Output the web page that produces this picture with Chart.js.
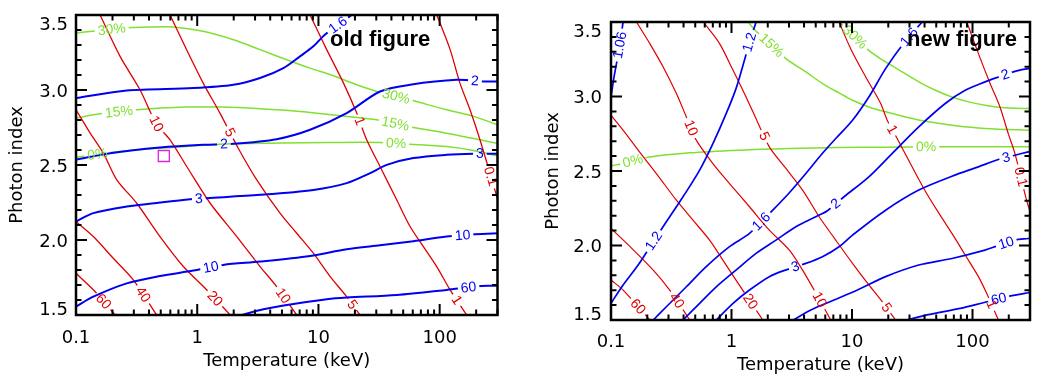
<!DOCTYPE html>
<html>
<head>
<meta charset="utf-8">
<script src="https://cdn.jsdelivr.net/npm/chart.js@4.4.1/dist/chart.umd.min.js"></script>
<style>
  body { margin: 0; background: #fff; }
  #wrap { position: relative; width: 1047px; height: 382px; }
  .panel { position: absolute; top: 0; height: 382px; }
</style>
</head>
<body>
<div id="wrap">
  <div class="panel" style="left:0;width:523px"><canvas id="oldChart"></canvas></div>
  <div class="panel" style="left:523px;width:524px"><canvas id="newChart"></canvas></div>
</div>
<script>
// axis ticks
const tempTicks = [0.1, 1, 10, 100];
const tempTickLabels = ['0.1', '1', '10', '100'];
const indexTicks = [1.5, 2.0, 2.5, 3.0, 3.5];
const indexTickLabels = ['1.5', '2.0', '2.5', '3.0', '3.5'];

// contours: [label, [[T, index], ...], [[T, index] of each label]]
const oldRed = [
  ['60', [[0.1,1.778],[0.141,1.663],[0.21,1.5],[0.231,1.462]], [[0.168,1.589]]],
  ['40', [[0.1,2.123],[0.139,2.023],[0.203,1.878],[0.297,1.734],[0.463,1.5],[0.493,1.467]], [[0.337,1.622]]],
  ['20', [[0.092,2.91],[0.1,2.868],[0.131,2.712],[0.168,2.579],[0.217,2.401],[0.317,2.245],[0.493,2.023],[0.769,1.823],[1.20,1.667],[1.87,1.5],[2.05,1.456]], [[1.36,1.600]]],
  ['10', [[0.148,3.547],[0.158,3.5],[0.231,3.224],[0.337,3.002],[0.46,2.775],[0.597,2.668],[0.819,2.490],[1.28,2.245],[2.12,2.023],[3.30,1.823],[4.52,1.689],[6.62,1.5],[7.05,1.467]], [[0.46,2.775],[4.98,1.622]]],
  ['5', [[0.56,3.547],[0.597,3.5],[0.769,3.313],[1.12,3.046],[1.54,2.846],[2.18,2.612],[3.10,2.401],[4.82,2.179],[6.62,2.045],[9.08,1.912],[12.5,1.756],[17.1,1.622],[22.0,1.5],[23.8,1.462]], [[1.81,2.712],[18.8,1.567]]],
  ['1', [[8.0,3.547],[8.53,3.5],[11.7,3.269],[16.1,3.046],[20.7,2.846],[25.0,2.668],[32.2,2.490],[44.2,2.268],[57.0,2.090],[73.4,1.956],[94.6,1.823],[122,1.667],[167,1.5],[178,1.467]], [[21.4,2.790],[143,1.607]]],
  ['0.1', [[88.8,3.547],[94.6,3.5],[122,3.269],[147,3.046],[178,2.868],[215,2.668],[296,2.290],[315,2.212]], [[260,2.423]]]
];
const oldBlue = [
  ['1.6', [[0.1,2.946],[0.262,2.997],[0.929,3.013],[1.99,3.035],[3.30,3.080],[5.14,3.146],[7.05,3.224],[9.08,3.291],[11.3,3.369],[18.8,3.5],[22.0,3.54]], [[14.2,3.442]]],
  ['2', [[0.1,2.535],[0.191,2.579],[0.493,2.617],[1.12,2.635],[1.99,2.641],[4.52,2.672],[8.53,2.735],[17.1,2.846],[32.2,2.990],[57.0,3.035],[138,3.068],[237,3.057],[320,3.057]], [[1.66,2.650],[196,3.073]]],
  ['3', [[0.1,2.123],[0.139,2.179],[0.262,2.223],[0.493,2.250],[0.872,2.272],[1.20,2.279],[3.30,2.301],[9.08,2.334],[17.1,2.379],[26.7,2.446],[36.6,2.501],[60.7,2.546],[114,2.568],[190,2.575],[320,2.575]], [[1.03,2.285],[215,2.579]]],
  ['10', [[0.1,1.556],[0.139,1.622],[0.262,1.711],[0.493,1.760],[0.929,1.796],[1.64,1.834],[3.30,1.856],[8.53,1.894],[17.1,1.938],[32.2,1.965],[60.7,1.992],[114,2.023],[196,2.038],[320,2.045]], [[1.29,1.829],[154,2.045]]],
  ['60', [[1.87,1.478],[2.33,1.5],[3.51,1.538],[6.21,1.573],[11.7,1.605],[17.1,1.616],[44.2,1.633],[114,1.667],[222,1.694],[320,1.694]], [[173,1.689]]]
];
const oldGreen = [
  ['30%', [[0.1,3.380],[0.27,3.415],[0.408,3.42],[0.635,3.42],[1.12,3.391],[1.99,3.335],[3.30,3.269],[5.47,3.202],[8.53,3.146],[13.3,3.095],[20.7,3.035],[30.3,2.990],[58.8,2.931],[114,2.868],[190,2.824],[320,2.76]], [[0.197,3.405],[43.7,2.957]]],
  ['15%', [[0.1,2.813],[0.158,2.841],[0.317,2.868],[0.819,2.886],[1.54,2.886],[3.30,2.875],[7.05,2.857],[17.1,2.824],[30.3,2.801],[60.7,2.750],[114,2.712],[215,2.668],[320,2.64]], [[0.226,2.855],[43.4,2.784]]],
  ['0%', [[0.1,2.552],[0.191,2.583],[0.408,2.608],[0.819,2.623],[1.54,2.639],[4.82,2.646],[12.5,2.650],[32.2,2.650],[57.0,2.639],[114,2.623],[190,2.597],[320,2.555]], [[0.15,2.575],[43.7,2.650]]]
];
const oldBestFit = [[0.53, 2.56]];

const newRed = [
  ['60', [[0.1,1.768],[0.126,1.701],[0.21,1.5],[0.231,1.455]], [[0.17,1.594]]],
  ['40', [[0.1,2.115],[0.144,1.992],[0.224,1.835],[0.307,1.701],[0.45,1.5],[0.48,1.455]], [[0.342,1.623]]],
  ['20', [[0.092,2.908],[0.1,2.874],[0.126,2.774],[0.168,2.640],[0.238,2.483],[0.349,2.304],[0.479,2.170],[0.658,2.036],[0.848,1.902],[1.09,1.768],[1.82,1.5],[2.0,1.455]], [[1.39,1.616]]],
  ['10', [[0.153,3.545],[0.163,3.5],[0.21,3.355],[0.271,3.198],[0.349,3.020],[0.422,2.863],[0.51,2.707],[0.701,2.550],[0.963,2.416],[1.41,2.260],[2.06,2.103],[3.02,1.969],[3.89,1.835],[4.85,1.701],[5.69,1.601],[6.66,1.5],[7.10,1.455]], [[0.45,2.785],[5.01,1.623]]],
  ['5', [[0.554,3.545],[0.587,3.5],[0.796,3.355],[1.03,3.176],[1.32,2.997],[1.62,2.841],[2.06,2.662],[2.83,2.517],[3.89,2.372],[5.34,2.193],[7.33,2.036],[10.1,1.880],[13.8,1.735],[17.8,1.623],[23.0,1.5],[25.3,1.455]], [[1.78,2.725],[19.0,1.578]]],
  ['1', [[7.42,3.545],[7.81,3.5],[9.75,3.321],[13.0,3.131],[17.3,2.953],[19.6,2.841],[23.7,2.718],[30.5,2.550],[39.4,2.383],[50.7,2.237],[67.5,2.081],[87.0,1.936],[112,1.791],[131,1.679],[164,1.5],[175,1.455]], [[21.5,2.778],[145,1.607]]],
  ['0.1', [[85.9,3.545],[89.8,3.5],[112,3.288],[140,3.087],[169,2.930],[198,2.751],[225,2.617],[281,2.304],[309,2.193]], [[251,2.461]]]
];
const newBlue = [
  ['1.06', [[0.097,2.930],[0.1,2.997],[0.106,3.131],[0.113,3.254],[0.119,3.355],[0.126,3.5],[0.130,3.556]], [[0.119,3.344]]],
  ['1.2', [[0.092,1.567],[0.1,1.612],[0.126,1.735],[0.168,1.869],[0.224,2.025],[0.288,2.159],[0.396,2.327],[0.544,2.506],[0.701,2.684],[0.903,2.885],[1.09,3.053],[1.28,3.243],[1.41,3.366],[1.60,3.5],[1.65,3.545]], [[0.224,2.032],[1.39,3.366]]],
  ['1.6', [[0.197,1.455],[0.224,1.5],[0.288,1.589],[0.422,1.723],[0.617,1.858],[0.963,1.992],[1.41,2.081],[2.20,2.237],[3.02,2.354],[4.14,2.483],[5.51,2.606],[7.33,2.718],[10.1,2.841],[13.8,2.997],[19.0,3.187],[26.1,3.344],[38.1,3.5],[41.9,3.545]], [[1.78,2.159],[28.7,3.411]]],
  ['2', [[0.349,1.455],[0.396,1.5],[0.544,1.612],[0.747,1.723],[1.09,1.835],[1.60,1.947],[2.34,2.036],[3.42,2.126],[5.01,2.193],[6.25,2.233],[8.59,2.327],[13.8,2.461],[21.5,2.617],[35.8,2.796],[59.4,2.953],[87.0,3.042],[127,3.098],[159,3.127],[225,3.169],[290,3.187],[319,3.192]], [[7.42,2.275],[186,3.154]]],
  ['3', [[0.658,1.455],[0.747,1.5],[1.03,1.612],[1.41,1.701],[2.06,1.791],[2.92,1.840],[4.14,1.880],[5.69,1.925],[7.81,1.992],[10.1,2.070],[19.0,2.237],[35.8,2.372],[67.5,2.465],[112,2.528],[164,2.577],[225,2.606],[290,2.628],[319,2.635]], [[3.38,1.862],[189,2.599]]],
  ['10', [[2.66,1.455],[3.21,1.496],[4.55,1.567],[7.10,1.634],[11.1,1.701],[19.0,1.791],[35.8,1.869],[67.5,1.913],[127,1.969],[159,1.996],[225,2.036],[290,2.047],[319,2.052]], [[189,2.025]]],
  ['60', [[19.0,1.466],[28.7,1.5],[41.9,1.534],[79.1,1.578],[123,1.616],[218,1.665],[290,1.683],[319,1.688]], [[164,1.650]]]
];
const newGreen = [
  ['30%', [[6.88,3.545],[7.81,3.5],[13.8,3.310],[19.0,3.232],[26.1,3.165],[35.8,3.098],[49.2,3.042],[67.5,2.997],[92.7,2.964],[127,2.941],[175,2.926],[290,2.919],[319,2.919]], [[10.6,3.399]]],
  ['15%', [[1.24,3.551],[1.55,3.449],[2.83,3.254],[4.14,3.165],[5.69,3.087],[7.81,3.024],[10.1,2.975],[13.8,2.930],[19.0,2.897],[27.8,2.863],[43.3,2.830],[67.5,2.807],[127,2.785],[290,2.774],[319,2.774]], [[2.15,3.344]]],
  ['0%', [[0.1,2.535],[0.126,2.550],[0.197,2.591],[0.45,2.622],[1.16,2.640],[3.02,2.651],[7.81,2.658],[19.0,2.660],[55.8,2.662],[319,2.662]], [[0.151,2.573],[41.2,2.662]]]
];

const RED = '#e00000';
const BLUE = '#0000f0';
const GREEN = '#80e030';
const MAGENTA = '#dd22dd';
const FONT = 'DejaVu Sans';
const LABEL_FONT = '14px "Liberation Sans"';

// contour labels: cut a gap in the line and write the value along it
const contourLabels = {
  id: 'contourLabels',
  beforeDatasetsDraw(chart) {
    const sx = chart.scales.x, sy = chart.scales.y;
    const ctx = chart.ctx;
    ctx.save();
    ctx.font = LABEL_FONT;
    chart.$marks = chart.data.datasets.map(ds => {
      if (!ds.marks) return [];
      const pts = ds.data.map(p => [sx.getPixelForValue(p.x), sy.getPixelForValue(p.y)]);
      return ds.marks.map(([t, g]) => {
        const px = sx.getPixelForValue(t), py = sy.getPixelForValue(g);
        let best = null;
        for (let i = 0; i < pts.length - 1; i++) {
          const [x0, y0] = pts[i], [x1, y1] = pts[i + 1];
          const dx = x1 - x0, dy = y1 - y0;
          const len2 = dx * dx + dy * dy;
          let u = len2 ? ((px - x0) * dx + (py - y0) * dy) / len2 : 0;
          u = Math.max(0, Math.min(1, u));
          const qx = x0 + u * dx, qy = y0 + u * dy;
          const d = (qx - px) ** 2 + (qy - py) ** 2;
          if (!best || d < best.d) best = {d, x: qx, y: qy, a: Math.atan2(dy, dx)};
        }
        let a = best.a;
        if (a > Math.PI / 2) a -= Math.PI;
        if (a < -Math.PI / 2) a += Math.PI;
        return {x: best.x, y: best.y, a, text: ds.label, w: ctx.measureText(ds.label).width};
      });
    });
    ctx.restore();
  },
  beforeDatasetDraw(chart, args) {
    const marks = chart.$marks && chart.$marks[args.index];
    if (!marks || !marks.length) return;
    const ctx = chart.ctx;
    ctx.save();
    ctx.beginPath();
    ctx.rect(0, 0, chart.width, chart.height);
    marks.forEach(m => {
      const c = Math.cos(m.a), s = Math.sin(m.a);
      const hw = m.w / 2 + 3, hh = 7;
      [[-hw, -hh], [hw, -hh], [hw, hh], [-hw, hh]].forEach(([u, v], i) => {
        const X = m.x + u * c - v * s, Y = m.y + u * s + v * c;
        if (i) ctx.lineTo(X, Y); else ctx.moveTo(X, Y);
      });
      ctx.closePath();
    });
    ctx.clip('evenodd');
    args.meta.$cut = true;
  },
  afterDatasetDraw(chart, args) {
    if (args.meta.$cut) {
      chart.ctx.restore();
      args.meta.$cut = false;
    }
  },
  afterDatasetsDraw(chart) {
    const ctx = chart.ctx, a = chart.chartArea;
    ctx.save();
    ctx.beginPath();
    ctx.rect(a.left, a.top, a.right - a.left, a.bottom - a.top);
    ctx.clip();
    ctx.font = LABEL_FONT;
    ctx.textAlign = 'center';
    ctx.textBaseline = 'middle';
    chart.data.datasets.forEach((ds, i) => {
      (chart.$marks[i] || []).forEach(m => {
        ctx.save();
        ctx.translate(m.x, m.y);
        ctx.rotate(m.a);
        ctx.fillStyle = ds.borderColor;
        ctx.fillText(m.text, 0, 0.5);
        ctx.restore();
      });
    });
    ctx.restore();
  }
};

// IDL style box: inward ticks on all four sides, labels, caption
const idlFrame = {
  id: 'idlFrame',
  afterDraw(chart, args, opts) {
    const {ctx, chartArea: a} = chart;
    const x = chart.scales.x, y = chart.scales.y;
    ctx.save();
    ctx.strokeStyle = '#000';
    ctx.lineWidth = 2;
    ctx.beginPath();
    const xTick = (v, len) => {
      const p = x.getPixelForValue(v);
      ctx.moveTo(p, a.bottom); ctx.lineTo(p, a.bottom - len);
      ctx.moveTo(p, a.top); ctx.lineTo(p, a.top + len);
    };
    const yTick = (v, len) => {
      const p = y.getPixelForValue(v);
      ctx.moveTo(a.left, p); ctx.lineTo(a.left + len, p);
      ctx.moveTo(a.right, p); ctx.lineTo(a.right - len, p);
    };
    tempTicks.forEach(v => {
      xTick(v, 11);
      for (let k = 2; k <= 9; k++) if (v * k <= 300) xTick(v * k, 5.5);
    });
    for (let v = 1.6; v < 3.45; v += 0.1) {
      if (Math.abs(v * 2 - Math.round(v * 2)) > 0.01) yTick(v, 5.5);
    }
    indexTicks.forEach(v => yTick(v, 11));
    ctx.stroke();
    ctx.lineWidth = 2.5;
    ctx.strokeRect(a.left, a.top, a.right - a.left, a.bottom - a.top);

    ctx.fillStyle = '#000';
    ctx.font = '18px "' + FONT + '"';
    ctx.textBaseline = 'alphabetic';
    ctx.textAlign = 'center';
    tempTicks.forEach((v, i) => {
      ctx.fillText(tempTickLabels[i], x.getPixelForValue(v), a.bottom + opts.xLabelDy);
    });
    ctx.textAlign = 'right';
    indexTicks.forEach((v, i) => {
      let c = y.getPixelForValue(v);
      c = Math.max(a.top + 8.5, Math.min(a.bottom - 6.5, c));
      ctx.fillText(indexTickLabels[i], a.left - opts.yLabelDx, c + 6.5);
    });

    ctx.textAlign = 'left';
    ctx.font = 'bold 22px "Liberation Sans"';
    ctx.fillText(opts.caption, a.left + opts.captionDx, a.top + opts.captionDy);
    ctx.restore();
  }
};

function contourSets(groups) {
  const sets = [];
  groups.forEach(([lines, color, width]) => {
    lines.forEach(([text, pts, labs]) => {
      sets.push({
        label: text,
        data: pts.map(p => ({x: p[0], y: p[1]})),
        marks: labs,
        showLine: true,
        borderColor: color,
        borderWidth: width,
        pointRadius: 0,
        tension: 0.3
      });
    });
  });
  return sets;
}

function makePanel(id, cfg) {
  const datasets = (cfg.extra || []).concat(contourSets(cfg.groups));
  return new Chart(document.getElementById(id), {
    type: 'scatter',
    data: {datasets},
    options: {
      responsive: true,
      maintainAspectRatio: false,
      animation: false,
      events: [],
      layout: {padding: {top: cfg.top, right: cfg.right, left: 0, bottom: 0}},
      elements: {line: {capBezierPoints: false}},
      plugins: {
        legend: {display: false},
        tooltip: {enabled: false},
        idlFrame: cfg.frame
      },
      scales: {
        x: {
          type: 'logarithmic', min: 0.1, max: 300,
          grid: {display: false}, border: {display: false}, ticks: {display: false},
          title: {display: true, text: 'Temperature (keV)', color: '#000',
                  font: {family: FONT, size: 18}, padding: {top: 0, bottom: cfg.xTitlePad}},
          afterFit(s) { s.height = cfg.xHeight; }
        },
        y: {
          type: 'linear', min: 1.5, max: 3.5,
          grid: {display: false}, border: {display: false}, ticks: {display: false},
          title: {display: true, text: 'Photon index', color: '#000',
                  font: {family: FONT, size: 18}, padding: {top: cfg.yTitlePad, bottom: 0}},
          afterFit(s) { s.width = cfg.yWidth; }
        }
      }
    },
    plugins: [contourLabels, idlFrame]
  });
}

makePanel('oldChart', {
  top: 15, right: 25.5, yWidth: 76, xHeight: 67, yTitlePad: 6.7, xTitlePad: 9.7,
  frame: {caption: 'old figure', captionDx: 254, captionDy: 31, xLabelDy: 28, yLabelDx: 8},
  extra: [{
    label: 'best fit',
    data: oldBestFit.map(p => ({x: p[0], y: p[1]})),
    pointStyle: 'rect', pointRadius: 7.8, pointBorderWidth: 1.3,
    pointBorderColor: MAGENTA, pointBackgroundColor: 'rgba(0,0,0,0)', showLine: false
  }],
  groups: [[oldBlue, BLUE, 2], [oldRed, RED, 1.3], [oldGreen, GREEN, 1.5]]
});

makePanel('newChart', {
  top: 22, right: 17, yWidth: 88, xHeight: 62, yTitlePad: 19.2, xTitlePad: 5.7,
  frame: {caption: 'new figure', captionDx: 296, captionDy: 24, xLabelDy: 26.5, yLabelDx: 9},
  groups: [[newBlue, BLUE, 1.7], [newRed, RED, 1.2], [newGreen, GREEN, 1.5]]
});
</script>
</body>
</html>
